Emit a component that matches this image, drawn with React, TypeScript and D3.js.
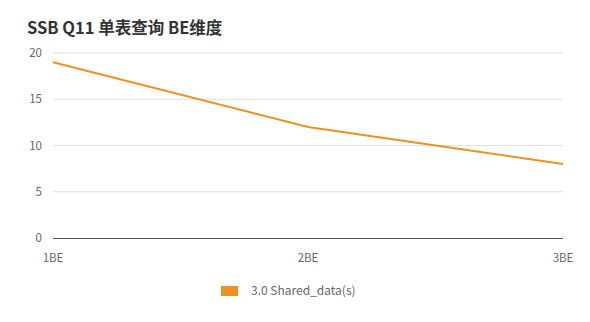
import React from "react";
import * as d3 from "d3";

const categories = ["1BE", "2BE", "3BE"];
const seriesName = "3.0 Shared_data(s)";
const values = [19, 12, 8];
const yTicks = [0, 5, 10, 15, 20];
const title = "SSB Q11 单表查询 BE维度";

export default function App() {
  const W = 590, H = 322;
  const left = 53, right = 563, top = 53, bottom = 238;
  const x = d3.scalePoint<string>().domain(categories).range([left, right]);
  const y = d3.scaleLinear().domain([0, 20]).range([bottom, top]);
  const line = d3
    .line<number>()
    .x((_, i) => x(categories[i]) as number)
    .y((d) => y(d));
  const font = "'Noto Sans CJK SC', 'Open Sans', sans-serif";
  return (
    <svg
      width={W}
      height={H}
      style={{ position: "absolute", left: 0, top: 0, fontFamily: font }}
    >
      <rect width={W} height={H} fill="#fff" />
      <text x={27} y={34} fontSize={16.5} fontWeight="bold" fill="#333">
        {title}
      </text>
      {yTicks.map((t) => (
        <g key={t}>
          {t !== 0 && (
            <line x1={left} x2={right} y1={y(t)} y2={y(t)} stroke="#e0e0e0" strokeWidth={1} />
          )}
          <text x={42} y={y(t)} dy="0.35em" textAnchor="end" fontSize={11.5} fill="#666">
            {t}
          </text>
        </g>
      ))}
      <line x1={left} x2={right} y1={bottom + 0.5} y2={bottom + 0.5} stroke="#4e5358" strokeWidth={1} />
      {categories.map((c) => (
        <text key={c} x={x(c)} y={262} textAnchor="middle" fontSize={11.5} fill="#666">
          {c}
        </text>
      ))}
      <path d={line(values) || ""} fill="none" stroke="#f0901e" strokeWidth={2} />
      <rect x={221} y={286} width={17} height={10} fill="#f0901e" />
      <text x={251} y={291} dy="0.35em" fontSize={12} fill="#666">
        {seriesName}
      </text>
    </svg>
  );
}
